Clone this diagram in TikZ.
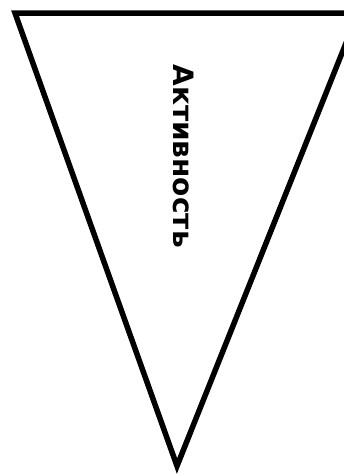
\documentclass[tikz,border=0pt]{standalone}
\usepackage{fontspec}
\newfontfamily\labelfont{DejaVu Sans}
\begin{document}
\begin{tikzpicture}[x=1pt,y=-1pt,
  tri/.style={draw=black,line width=5.5pt,line join=miter,fill=white},
  lbl/.style={font=\labelfont\bfseries\fontsize{28}{32}\selectfont,rotate=-90,inner sep=0pt}]
\useasboundingbox (0,0) rectangle (344,475);
\begin{scope}
\clip (0,0) rectangle (344,475);
\coordinate (tl) at (15,13);
\coordinate (tr) at (358,13);
\coordinate (ap) at (177,466);
\draw[tri] (tl) -- (tr) -- (ap) -- cycle;
\end{scope}
\node[lbl] (t) at (184,156) {Активность};
\end{tikzpicture}
\end{document}
